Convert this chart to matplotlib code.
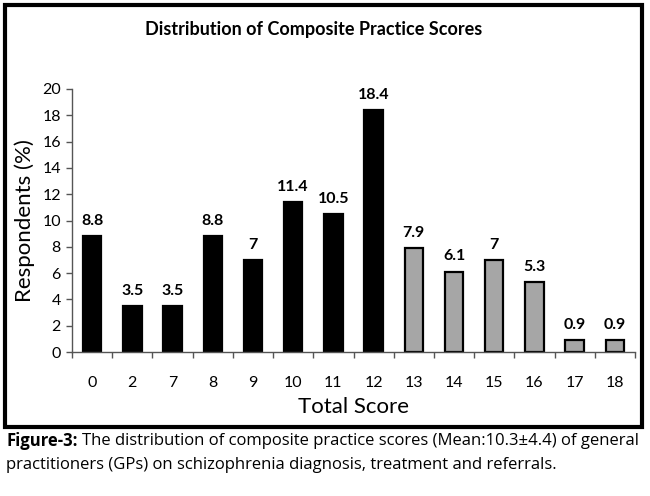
import matplotlib
matplotlib.use("Agg")
import matplotlib.pyplot as plt
from matplotlib.patches import Rectangle

categories = ["0", "2", "7", "8", "9", "10", "11", "12", "13", "14", "15", "16", "17", "18"]
values = [8.8, 3.5, 3.5, 8.8, 7, 11.4, 10.5, 18.4, 7.9, 6.1, 7, 5.3, 0.9, 0.9]
labels = ["8.8", "3.5", "3.5", "8.8", "7", "11.4", "10.5", "18.4", "7.9", "6.1", "7", "5.3", "0.9", "0.9"]
dark_count = 8
yticks = [0, 2, 4, 6, 8, 10, 12, 14, 16, 18, 20]

FONT = ["Lato", "DejaVu Sans"]
plt.rcParams["font.family"] = FONT

fig = plt.figure(figsize=(6.5, 4.96), dpi=100)
ax = fig.add_axes([72/650, 1-352/496, (635-72)/650, (352-89)/496])

x = list(range(len(categories)))
colors = ["#000000" if i < dark_count else "#a6a6a6" for i in x]
ax.bar(x, values, width=0.46, color=colors, edgecolor="#000000", linewidth=1.6)
for xi, v, lab in zip(x, values, labels):
    ax.annotate(lab, (xi, v), xytext=(0, 6), textcoords="offset points",
                ha="center", va="bottom", fontsize=11.5, fontweight="bold")

ax.set_xlim(-0.5, len(categories) - 0.5)
ax.set_ylim(0, 20)
ax.set_yticks(yticks)
ax.set_yticklabels([str(t) for t in yticks], fontsize=11.5)
ax.set_xticks([i - 0.5 for i in range(len(categories) + 1)])
ax.set_xticklabels([])
ax.set_xticks(x, minor=True)
ax.set_xticklabels(categories, minor=True, fontsize=11.5)
ax.tick_params(axis="x", which="minor", length=0, pad=17)
ax.tick_params(axis="x", which="major", direction="out", length=4, width=1, color="#555555")
ax.tick_params(axis="y", direction="out", length=4, width=1, color="#555555", pad=4)
for s in ["top", "right"]:
    ax.spines[s].set_visible(False)
for s in ["left", "bottom"]:
    ax.spines[s].set_color("#555555")
    ax.spines[s].set_linewidth(1)
ax.set_ylabel("Respondents (%)", fontsize=16, labelpad=5)
ax.set_xlabel("Total Score", fontsize=16, labelpad=5)

fig.text(314/650, 1-30/496, "Distribution of Composite Practice Scores",
         ha="center", va="center", fontsize=13, fontweight="bold")

# outer border
fig.patches.append(Rectangle((5/650, 1-427/496), (642-5)/650, (427-5)/496,
                             transform=fig.transFigure, fill=False,
                             edgecolor="black", linewidth=3))

# caption
cap_font = ["Open Sans", "DejaVu Sans"]
fig.canvas.draw()
r = fig.canvas.get_renderer()
t1 = fig.text(6/650, 1-441/496, "Figure-3:", ha="left", va="center",
              fontsize=12, fontweight="bold", family=cap_font)
bb = t1.get_window_extent(renderer=r)
fig.text((bb.x1 + 5)/650, 1-441/496,
         "The distribution of composite practice scores (Mean:10.3\u00b14.4) of general",
         ha="left", va="center", fontsize=12, family=cap_font)
fig.text(6/650, 1-465/496,
         "practitioners (GPs) on schizophrenia diagnosis, treatment and referrals.",
         ha="left", va="center", fontsize=12, family=cap_font)

fig.savefig("out.png", dpi=100)
